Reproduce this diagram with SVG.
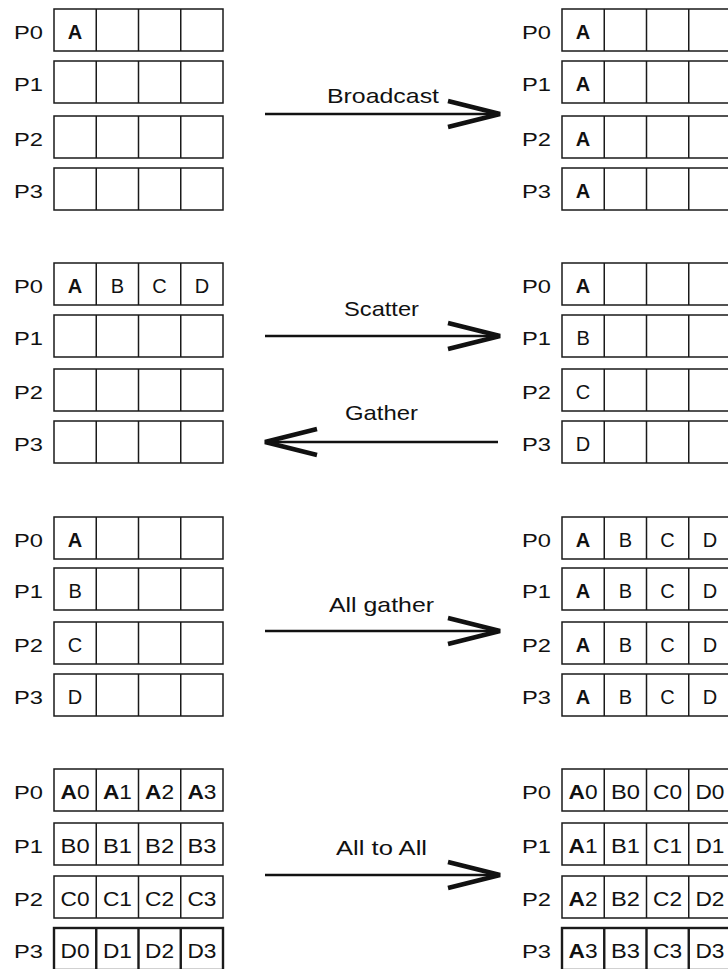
<svg xmlns="http://www.w3.org/2000/svg" xmlns:xlink="http://www.w3.org/1999/xlink" width="728" height="969" viewBox="0 0 728 969">
<style>
.row{fill:#fff;stroke:#1a1a1a;stroke-width:1.5}
.thick{stroke-width:2.4}
.t{font-family:"Liberation Sans",Arial,Helvetica,sans-serif;font-size:18.5px;fill:#111}
.c{text-anchor:middle;font-size:20px}
.b{font-weight:bold}
.op{font-size:21px}
.shaft{fill:none;stroke:#111;stroke-width:2.5;marker-end:url(#chev)}
</style>
<defs>
<g id="rowShape"><rect x="0" y="0" width="169" height="42"/><path d="M42.25 0V42M84.5 0V42M126.75 0V42"/></g>
<marker id="chev" viewBox="-58 -18 64 36" refX="0" refY="0" markerWidth="64" markerHeight="36" markerUnits="userSpaceOnUse" orient="auto" overflow="visible"><path d="M-52,-13 L0,0 L-52,13" fill="none" stroke="#111" stroke-width="4.5" stroke-linejoin="bevel"/></marker>
</defs>
<rect width="728" height="969" fill="#fff"/>

<!-- Section 1: Broadcast -->
<g id="bcast-src">
<g id="bcast-src-p0"><use xlink:href="#rowShape" class="row" x="54" y="9"/><text class="t" x="14" y="39" textLength="29" lengthAdjust="spacingAndGlyphs">P0</text><text class="t c b" x="75.1" y="39">A</text></g>
<g id="bcast-src-p1"><use xlink:href="#rowShape" class="row" x="54" y="61"/><text class="t" x="14" y="91" textLength="29" lengthAdjust="spacingAndGlyphs">P1</text></g>
<g id="bcast-src-p2"><use xlink:href="#rowShape" class="row" x="54" y="116"/><text class="t" x="14" y="146" textLength="29" lengthAdjust="spacingAndGlyphs">P2</text></g>
<g id="bcast-src-p3"><use xlink:href="#rowShape" class="row" x="54" y="168"/><text class="t" x="14" y="198" textLength="29" lengthAdjust="spacingAndGlyphs">P3</text></g>
</g>
<g id="bcast-dst">
<g id="bcast-dst-p0"><use xlink:href="#rowShape" class="row" x="562" y="9"/><text class="t" x="522" y="39" textLength="29" lengthAdjust="spacingAndGlyphs">P0</text><text class="t c b" x="583.1" y="39">A</text></g>
<g id="bcast-dst-p1"><use xlink:href="#rowShape" class="row" x="562" y="61"/><text class="t" x="522" y="91" textLength="29" lengthAdjust="spacingAndGlyphs">P1</text><text class="t c b" x="583.1" y="91">A</text></g>
<g id="bcast-dst-p2"><use xlink:href="#rowShape" class="row" x="562" y="116"/><text class="t" x="522" y="146" textLength="29" lengthAdjust="spacingAndGlyphs">P2</text><text class="t c b" x="583.1" y="146">A</text></g>
<g id="bcast-dst-p3"><use xlink:href="#rowShape" class="row" x="562" y="168"/><text class="t" x="522" y="198" textLength="29" lengthAdjust="spacingAndGlyphs">P3</text><text class="t c b" x="583.1" y="198">A</text></g>
</g>

<!-- Section 2: Scatter / Gather -->
<g id="scat-left">
<g id="scat-left-p0"><use xlink:href="#rowShape" class="row" x="54" y="263"/><text class="t" x="14" y="293" textLength="29" lengthAdjust="spacingAndGlyphs">P0</text><text class="t c b" x="75.1" y="293">A</text><text class="t c" x="117.4" y="293">B</text><text class="t c" x="159.6" y="293">C</text><text class="t c" x="201.9" y="293">D</text></g>
<g id="scat-left-p1"><use xlink:href="#rowShape" class="row" x="54" y="315"/><text class="t" x="14" y="345" textLength="29" lengthAdjust="spacingAndGlyphs">P1</text></g>
<g id="scat-left-p2"><use xlink:href="#rowShape" class="row" x="54" y="369"/><text class="t" x="14" y="399" textLength="29" lengthAdjust="spacingAndGlyphs">P2</text></g>
<g id="scat-left-p3"><use xlink:href="#rowShape" class="row" x="54" y="421"/><text class="t" x="14" y="451" textLength="29" lengthAdjust="spacingAndGlyphs">P3</text></g>
</g>
<g id="scat-right">
<g id="scat-right-p0"><use xlink:href="#rowShape" class="row" x="562" y="263"/><text class="t" x="522" y="293" textLength="29" lengthAdjust="spacingAndGlyphs">P0</text><text class="t c b" x="583.1" y="293">A</text></g>
<g id="scat-right-p1"><use xlink:href="#rowShape" class="row" x="562" y="315"/><text class="t" x="522" y="345" textLength="29" lengthAdjust="spacingAndGlyphs">P1</text><text class="t c" x="583.1" y="345">B</text></g>
<g id="scat-right-p2"><use xlink:href="#rowShape" class="row" x="562" y="369"/><text class="t" x="522" y="399" textLength="29" lengthAdjust="spacingAndGlyphs">P2</text><text class="t c" x="583.1" y="399">C</text></g>
<g id="scat-right-p3"><use xlink:href="#rowShape" class="row" x="562" y="421"/><text class="t" x="522" y="451" textLength="29" lengthAdjust="spacingAndGlyphs">P3</text><text class="t c" x="583.1" y="451">D</text></g>
</g>

<!-- Section 3: All gather -->
<g id="ag-src">
<g id="ag-src-p0"><use xlink:href="#rowShape" class="row" x="54" y="517"/><text class="t" x="14" y="547" textLength="29" lengthAdjust="spacingAndGlyphs">P0</text><text class="t c b" x="75.1" y="547">A</text></g>
<g id="ag-src-p1"><use xlink:href="#rowShape" class="row" x="54" y="568"/><text class="t" x="14" y="598" textLength="29" lengthAdjust="spacingAndGlyphs">P1</text><text class="t c" x="75.1" y="598">B</text></g>
<g id="ag-src-p2"><use xlink:href="#rowShape" class="row" x="54" y="622"/><text class="t" x="14" y="652" textLength="29" lengthAdjust="spacingAndGlyphs">P2</text><text class="t c" x="75.1" y="652">C</text></g>
<g id="ag-src-p3"><use xlink:href="#rowShape" class="row" x="54" y="674"/><text class="t" x="14" y="704" textLength="29" lengthAdjust="spacingAndGlyphs">P3</text><text class="t c" x="75.1" y="704">D</text></g>
</g>
<g id="ag-dst">
<g id="ag-dst-p0"><use xlink:href="#rowShape" class="row" x="562" y="517"/><text class="t" x="522" y="547" textLength="29" lengthAdjust="spacingAndGlyphs">P0</text><text class="t c b" x="583.1" y="547">A</text><text class="t c" x="625.4" y="547">B</text><text class="t c" x="667.6" y="547">C</text><text class="t c" x="709.9" y="547">D</text></g>
<g id="ag-dst-p1"><use xlink:href="#rowShape" class="row" x="562" y="568"/><text class="t" x="522" y="598" textLength="29" lengthAdjust="spacingAndGlyphs">P1</text><text class="t c b" x="583.1" y="598">A</text><text class="t c" x="625.4" y="598">B</text><text class="t c" x="667.6" y="598">C</text><text class="t c" x="709.9" y="598">D</text></g>
<g id="ag-dst-p2"><use xlink:href="#rowShape" class="row" x="562" y="622"/><text class="t" x="522" y="652" textLength="29" lengthAdjust="spacingAndGlyphs">P2</text><text class="t c b" x="583.1" y="652">A</text><text class="t c" x="625.4" y="652">B</text><text class="t c" x="667.6" y="652">C</text><text class="t c" x="709.9" y="652">D</text></g>
<g id="ag-dst-p3"><use xlink:href="#rowShape" class="row" x="562" y="674"/><text class="t" x="522" y="704" textLength="29" lengthAdjust="spacingAndGlyphs">P3</text><text class="t c b" x="583.1" y="704">A</text><text class="t c" x="625.4" y="704">B</text><text class="t c" x="667.6" y="704">C</text><text class="t c" x="709.9" y="704">D</text></g>
</g>

<!-- Section 4: All to All -->
<g id="a2a-src">
<g id="a2a-src-p0"><use xlink:href="#rowShape" class="row" x="54" y="769"/><text class="t" x="14" y="799" textLength="29" lengthAdjust="spacingAndGlyphs">P0</text><text class="t c" x="75.1" y="799" textLength="29" lengthAdjust="spacingAndGlyphs"><tspan class="b">A</tspan>0</text><text class="t c" x="117.4" y="799" textLength="29" lengthAdjust="spacingAndGlyphs"><tspan class="b">A</tspan>1</text><text class="t c" x="159.6" y="799" textLength="29" lengthAdjust="spacingAndGlyphs"><tspan class="b">A</tspan>2</text><text class="t c" x="201.9" y="799" textLength="29" lengthAdjust="spacingAndGlyphs"><tspan class="b">A</tspan>3</text></g>
<g id="a2a-src-p1"><use xlink:href="#rowShape" class="row" x="54" y="823"/><text class="t" x="14" y="853" textLength="29" lengthAdjust="spacingAndGlyphs">P1</text><text class="t c" x="75.1" y="853" textLength="29" lengthAdjust="spacingAndGlyphs">B0</text><text class="t c" x="117.4" y="853" textLength="29" lengthAdjust="spacingAndGlyphs">B1</text><text class="t c" x="159.6" y="853" textLength="29" lengthAdjust="spacingAndGlyphs">B2</text><text class="t c" x="201.9" y="853" textLength="29" lengthAdjust="spacingAndGlyphs">B3</text></g>
<g id="a2a-src-p2"><use xlink:href="#rowShape" class="row" x="54" y="876"/><text class="t" x="14" y="906" textLength="29" lengthAdjust="spacingAndGlyphs">P2</text><text class="t c" x="75.1" y="906" textLength="29" lengthAdjust="spacingAndGlyphs">C0</text><text class="t c" x="117.4" y="906" textLength="29" lengthAdjust="spacingAndGlyphs">C1</text><text class="t c" x="159.6" y="906" textLength="29" lengthAdjust="spacingAndGlyphs">C2</text><text class="t c" x="201.9" y="906" textLength="29" lengthAdjust="spacingAndGlyphs">C3</text></g>
<g id="a2a-src-p3"><use xlink:href="#rowShape" class="row thick" x="54" y="928"/><text class="t" x="14" y="958" textLength="29" lengthAdjust="spacingAndGlyphs">P3</text><text class="t c" x="75.1" y="958" textLength="29" lengthAdjust="spacingAndGlyphs">D0</text><text class="t c" x="117.4" y="958" textLength="29" lengthAdjust="spacingAndGlyphs">D1</text><text class="t c" x="159.6" y="958" textLength="29" lengthAdjust="spacingAndGlyphs">D2</text><text class="t c" x="201.9" y="958" textLength="29" lengthAdjust="spacingAndGlyphs">D3</text></g>
</g>
<g id="a2a-dst">
<g id="a2a-dst-p0"><use xlink:href="#rowShape" class="row" x="562" y="769"/><text class="t" x="522" y="799" textLength="29" lengthAdjust="spacingAndGlyphs">P0</text><text class="t c" x="583.1" y="799" textLength="29" lengthAdjust="spacingAndGlyphs"><tspan class="b">A</tspan>0</text><text class="t c" x="625.4" y="799" textLength="29" lengthAdjust="spacingAndGlyphs">B0</text><text class="t c" x="667.6" y="799" textLength="29" lengthAdjust="spacingAndGlyphs">C0</text><text class="t c" x="709.9" y="799" textLength="29" lengthAdjust="spacingAndGlyphs">D0</text></g>
<g id="a2a-dst-p1"><use xlink:href="#rowShape" class="row" x="562" y="823"/><text class="t" x="522" y="853" textLength="29" lengthAdjust="spacingAndGlyphs">P1</text><text class="t c" x="583.1" y="853" textLength="29" lengthAdjust="spacingAndGlyphs"><tspan class="b">A</tspan>1</text><text class="t c" x="625.4" y="853" textLength="29" lengthAdjust="spacingAndGlyphs">B1</text><text class="t c" x="667.6" y="853" textLength="29" lengthAdjust="spacingAndGlyphs">C1</text><text class="t c" x="709.9" y="853" textLength="29" lengthAdjust="spacingAndGlyphs">D1</text></g>
<g id="a2a-dst-p2"><use xlink:href="#rowShape" class="row" x="562" y="876"/><text class="t" x="522" y="906" textLength="29" lengthAdjust="spacingAndGlyphs">P2</text><text class="t c" x="583.1" y="906" textLength="29" lengthAdjust="spacingAndGlyphs"><tspan class="b">A</tspan>2</text><text class="t c" x="625.4" y="906" textLength="29" lengthAdjust="spacingAndGlyphs">B2</text><text class="t c" x="667.6" y="906" textLength="29" lengthAdjust="spacingAndGlyphs">C2</text><text class="t c" x="709.9" y="906" textLength="29" lengthAdjust="spacingAndGlyphs">D2</text></g>
<g id="a2a-dst-p3"><use xlink:href="#rowShape" class="row thick" x="562" y="928"/><text class="t" x="522" y="958" textLength="29" lengthAdjust="spacingAndGlyphs">P3</text><text class="t c" x="583.1" y="958" textLength="29" lengthAdjust="spacingAndGlyphs"><tspan class="b">A</tspan>3</text><text class="t c" x="625.4" y="958" textLength="29" lengthAdjust="spacingAndGlyphs">B3</text><text class="t c" x="667.6" y="958" textLength="29" lengthAdjust="spacingAndGlyphs">C3</text><text class="t c" x="709.9" y="958" textLength="29" lengthAdjust="spacingAndGlyphs">D3</text></g>
</g>

<!-- Connectors -->
<g id="connectors">
<path class="shaft" d="M265 114H500"/>
<text class="t op" x="327" y="103" textLength="112" lengthAdjust="spacingAndGlyphs">Broadcast</text>
<path class="shaft" d="M265 336H500"/>
<text class="t op" x="344" y="316" textLength="75" lengthAdjust="spacingAndGlyphs">Scatter</text>
<path class="shaft" d="M498 442H265"/>
<text class="t op" x="345" y="420" textLength="73" lengthAdjust="spacingAndGlyphs">Gather</text>
<path class="shaft" d="M265 631H500"/>
<text class="t op" x="329" y="612" textLength="105" lengthAdjust="spacingAndGlyphs">All gather</text>
<path class="shaft" d="M265 875H500"/>
<text class="t op" x="336" y="855" textLength="91" lengthAdjust="spacingAndGlyphs">All to All</text>
</g>
</svg>
